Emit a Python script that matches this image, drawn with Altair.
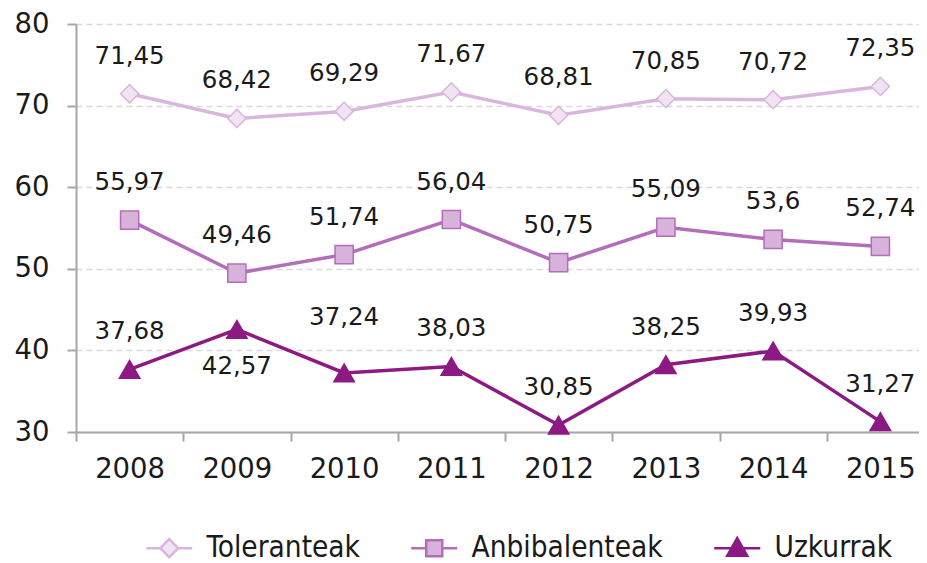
import altair as alt
import pandas as pd

years = ["2008", "2009", "2010", "2011", "2012", "2013", "2014", "2015"]
series_names = ["Toleranteak", "Anbibalenteak", "Uzkurrak"]
toleranteak = [71.45, 68.42, 69.29, 71.67, 68.81, 70.85, 70.72, 72.35]
anbibalenteak = [55.97, 49.46, 51.74, 56.04, 50.75, 55.09, 53.6, 52.74]
uzkurrak = [37.68, 42.57, 37.24, 38.03, 30.85, 38.25, 39.93, 31.27]
y_ticks = [30, 40, 50, 60, 70, 80]

# where each value label sits relative to its point
label_place = {
    "Toleranteak": ["above"] * 8,
    "Anbibalenteak": ["above"] * 8,
    "Uzkurrak": ["above", "below", "high", "above", "above", "above", "above", "above"],
}

line_colors = ["#D9B6DD", "#B36DBA", "#8C1A82"]
fill_colors = ["#F2E3F4", "#D7B3DB", "#8C1A82"]
marker_shapes = ["diamond", "square", "triangle-up"]
marker_sizes = [330, 330, 420]
legend_paths = [
    "M-2.3,0H-0.9M0.9,0H2.3M0,-0.9L0.9,0L0,0.9L-0.9,0Z",
    "M-2.3,0H-0.8M0.8,0H2.3M-0.8,-0.8H0.8V0.8H-0.8Z",
    "M-2.3,0H-0.57M0.57,0H2.3M0,-1L1,0.75L-1,0.75Z",
]

values = {"Toleranteak": toleranteak, "Anbibalenteak": anbibalenteak, "Uzkurrak": uzkurrak}
rows = []
for s in series_names:
    for yr, v, p in zip(years, values[s], label_place[s]):
        rows.append({"year": yr, "series": s, "value": v,
                     "label": str(v).replace(".", ","), "place": p})
df = pd.DataFrame(rows)

FONT = "DejaVu Sans"
TXT = "#1a1a1a"

x_enc = alt.X(
    "year:N", sort=years,
    scale=alt.Scale(type="band", paddingInner=0, paddingOuter=0, range=[0, 858]),
    axis=alt.Axis(title=None, labelAngle=0, tickBand="extent", grid=False, labelPadding=14),
)
y_enc = alt.Y(
    "value:Q",
    scale=alt.Scale(domain=[30, 80], nice=False, zero=False),
    axis=alt.Axis(title=None, values=y_ticks, grid=True, labelPadding=18),
)

base = alt.Chart(df)

lines = base.mark_line(strokeWidth=3.5).encode(
    x=x_enc, y=y_enc,
    color=alt.Color("series:N", scale=alt.Scale(domain=series_names, range=line_colors), legend=None),
)

layers = [lines]
for i, s in enumerate(series_names):
    layers.append(
        base.transform_filter(alt.datum.series == s).mark_point(
            shape=marker_shapes[i], size=marker_sizes[i], filled=True,
            fill=fill_colors[i], stroke=line_colors[i], strokeWidth=1.5, opacity=1,
        ).encode(x=x_enc, y=y_enc)
    )

for place, dy in [("above", -37), ("below", 38), ("high", -55)]:
    layers.append(
        base.transform_filter(alt.datum.place == place).mark_text(
            dy=dy, fontSize=24.5, font=FONT, color=TXT, baseline="middle",
        ).encode(x=x_enc, y=y_enc, text="label:N")
    )

leg = alt.Legend(
    title=None, orient="none", legendX=78.5, legendY=509, direction="horizontal",
    symbolSize=400, symbolStrokeWidth=2.5, symbolOpacity=1,
    labelFont="DejaVu Sans Condensed", labelFontSize=29.5, labelColor=TXT,
    labelOffset=22.5, columnPadding=45, labelLimit=400, padding=0,
)
legend_layer = base.mark_point(
    filled=True, opacity=1, strokeWidth=0, size=0,
).encode(
    x=x_enc, y=y_enc,
    shape=alt.Shape("series:N", scale=alt.Scale(domain=series_names, range=legend_paths), legend=leg),
    fill=alt.Fill("series:N", scale=alt.Scale(domain=series_names, range=fill_colors), legend=leg),
    stroke=alt.Stroke("series:N", scale=alt.Scale(domain=series_names, range=line_colors), legend=leg),
)
layers.insert(0, legend_layer)

chart = alt.layer(*layers).properties(
    width=843, height=408,
    autosize=alt.AutoSizeParams(type="none"),
    padding={"left": 68, "top": 16, "right": 0, "bottom": 131},
    background="white",
).configure_view(stroke=None).configure_axis(
    domainColor="#A6A6A6", domainWidth=2, tickColor="#A6A6A6", tickWidth=2, tickSize=9,
    labelFont=FONT, labelFontSize=27.5, labelColor=TXT,
    gridColor="#D9D9D9", gridWidth=1.5, gridDash=[6, 4],
)

chart.save("out.html", embed_options={"renderer": "svg", "actions": False})
